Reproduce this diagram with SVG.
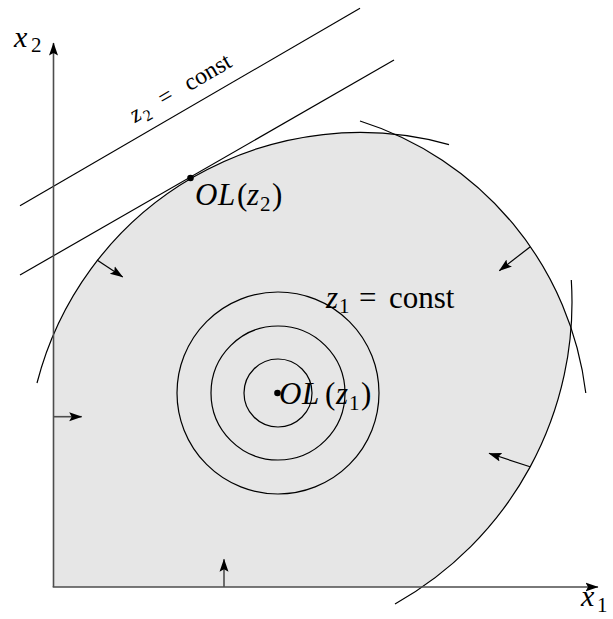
<svg xmlns="http://www.w3.org/2000/svg" width="613" height="619" viewBox="0 0 613 619">
<style>
.ln{fill:none;stroke:#000;stroke-width:1.2}
.ax{fill:none;stroke:#4d4d4d;stroke-width:1.6}
.t{font-family:"Liberation Serif","Times New Roman",serif;fill:#000}
.i{font-style:italic}
</style>
<defs>
<marker id="ah" markerUnits="userSpaceOnUse" markerWidth="14" markerHeight="11" refX="12.5" refY="5" orient="auto" viewBox="0 0 14 10">
<path d="M0,0.5 L13,5 L0,9.5 L2.5,5 Z" fill="#000"/>
</marker>
</defs>
<rect width="613" height="619" fill="#fff"/>
<g id="region">
<path d="M53.5,587 L53.5,334.6 A333.5,333.5 0 0 1 397.8,134.6 A326,326 0 0 1 571,327 A346,346 0 0 1 422.2,587 Z" fill="#e6e6e6"/>
</g>
<g id="constraints">
<path class="ln" d="M37,383 A333.5,333.5 0 0 1 449,144.6"/>
<path class="ln" d="M360,121 A326,326 0 0 1 585.8,393"/>
<path class="ln" d="M571.3,280 A346,346 0 0 1 395,603.9"/>
</g>
<g id="z2lines">
<line class="ln" x1="20" y1="205.7" x2="360" y2="8.3"/>
<line class="ln" x1="20" y1="275" x2="394" y2="60"/>
</g>
<g id="contours">
<circle class="ln" cx="278" cy="393" r="34"/>
<circle class="ln" cx="278" cy="393" r="67"/>
<circle class="ln" cx="278" cy="393" r="101"/>
</g>
<g id="axes">
<line class="ax" x1="53.5" y1="587" x2="53.5" y2="43" marker-end="url(#ah)"/>
<line class="ax" x1="52.7" y1="587" x2="598" y2="587" marker-end="url(#ah)"/>
</g>
<g id="arrows">
<line class="ln" x1="97" y1="260" x2="122.7" y2="277" marker-end="url(#ah)"/>
<line class="ln" x1="530" y1="247" x2="499.3" y2="270.7" marker-end="url(#ah)"/>
<line class="ln" x1="530" y1="466.7" x2="489" y2="453.3" marker-end="url(#ah)"/>
<line class="ax" x1="53.5" y1="416.7" x2="81.7" y2="416.7" marker-end="url(#ah)"/>
<line class="ax" x1="224" y1="587" x2="224" y2="559.3" marker-end="url(#ah)"/>
</g>
<g id="points">
<circle cx="190.5" cy="178" r="3.3" fill="#000"/>
<circle cx="277.5" cy="393" r="3.3" fill="#000"/>
</g>
<g id="labels">
<text class="t" font-size="30"><tspan class="i" x="14" y="47">x</tspan><tspan x="31" y="52" font-size="21">2</tspan></text>
<text class="t" font-size="30"><tspan class="i" x="581" y="606">x</tspan><tspan x="597" y="612" font-size="21">1</tspan></text>
<text class="t" font-size="31"><tspan class="i" x="195" y="205">O</tspan><tspan class="i" x="218" y="205">L</tspan><tspan x="237" y="205">(</tspan><tspan class="i" x="247" y="205">z</tspan><tspan x="260" y="211" font-size="21">2</tspan><tspan x="272" y="205">)</tspan></text>
<text class="t" font-size="31"><tspan class="i" x="279" y="404">O</tspan><tspan class="i" x="302" y="404">L</tspan><tspan x="325" y="404">(</tspan><tspan class="i" x="336" y="404">z</tspan><tspan x="349" y="410" font-size="21">1</tspan><tspan x="361" y="404">)</tspan></text>
<text class="t" font-size="31"><tspan class="i" x="326" y="308">z</tspan><tspan x="339" y="313" font-size="21">1</tspan><tspan x="359" y="308">=</tspan><tspan x="389" y="308">const</tspan></text>
<g transform="translate(135,123) rotate(-30.1)">
<text class="t" font-size="24"><tspan class="i" x="0" y="0">z</tspan><tspan x="11" y="5" font-size="16">2</tspan><tspan x="33" y="0">=</tspan><tspan x="63" y="0">const</tspan></text>
</g>
</g>
</svg>
